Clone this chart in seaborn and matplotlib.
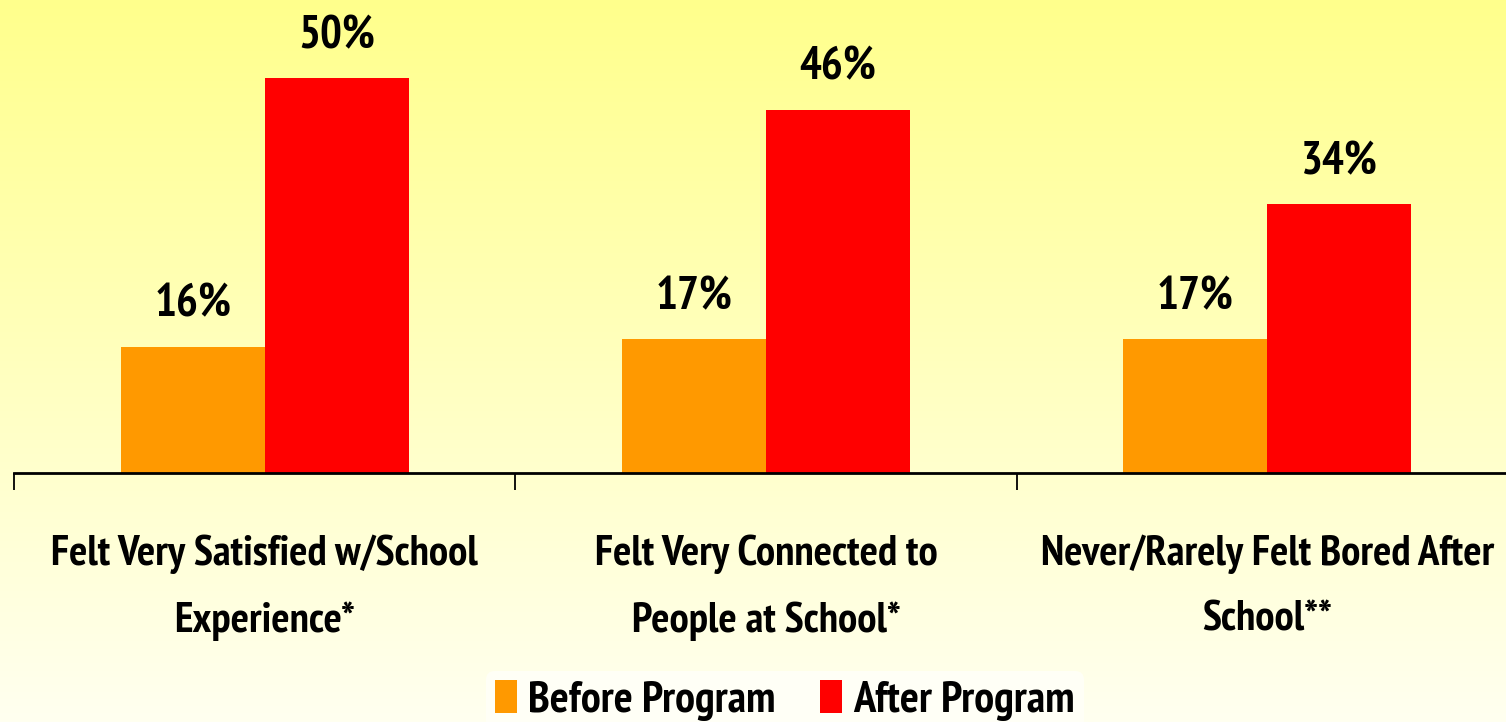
import numpy as np
import pandas as pd
import matplotlib
matplotlib.use("Agg")
import matplotlib.pyplot as plt
from matplotlib import font_manager
import seaborn as sns

categories = ["Felt Very Satisfied w/School\nExperience*",
              "Felt Very Connected to\nPeople at School*",
              "Never/Rarely Felt Bored After\nSchool**"]
before_vals = [16, 17, 17]
after_vals = [50, 46, 34]
series_names = ["Before Program", "After Program"]
colors = ["#FF9900", "#FF0000"]

sns.set_theme(style="white")


def _is_bold(w):
    if isinstance(w, str):
        return w.lower() in ("bold", "heavy", "black", "extra bold", "demibold", "semibold")
    return w >= 700


fam = "Liberation Sans"
for cand in ["Liberation Sans Narrow", "PT Sans Narrow", "Roboto Condensed",
             "Barlow Condensed", "Archivo Narrow"]:
    if any(f.name == cand and _is_bold(f.weight) for f in font_manager.fontManager.ttflist):
        fam = cand
        break
plt.rcParams["font.family"] = [fam, "DejaVu Sans"]
plt.rcParams["text.color"] = "black"
plt.rcParams["xtick.color"] = "black"

df = pd.DataFrame({
    "cat": categories * 2,
    "val": before_vals + after_vals,
    "period": [series_names[0]] * 3 + [series_names[1]] * 3,
})

W, H = 1506, 722
fig = plt.figure(figsize=(W / 100, H / 100), dpi=100)

# background gradient
bg = fig.add_axes([0, 0, 1, 1], zorder=0)
grad = np.linspace(0, 1, 256).reshape(-1, 1)
top = np.array([255, 255, 140]) / 255
bot = np.array([255, 255, 240]) / 255
img = top[None, None, :] * (1 - grad[:, :, None]) + bot[None, None, :] * grad[:, :, None]
bg.imshow(img, aspect="auto", extent=[0, 1, 0, 1])
bg.axis("off")

base_y = 473
ax = fig.add_axes([14 / W, (H - base_y) / H, 1504 / W, base_y / H], zorder=1)
ax.patch.set_alpha(0)
sns.barplot(data=df, x="cat", y="val", hue="period", palette=colors,
            width=0.574, dodge=True, gap=0, saturation=1, linewidth=0,
            ax=ax, legend=True)

ax.set_xlim(-0.5, 2.5)
ax.set_ylim(0, base_y / 7.9)
for s in ["top", "right", "left"]:
    ax.spines[s].set_visible(False)
ax.spines["bottom"].set_linewidth(2)
ax.spines["bottom"].set_color("black")
ax.set_yticks([])
ax.set_xlabel("")
ax.set_ylabel("")

ax.set_xticks([0, 1, 2])
ax.set_xticklabels(categories, fontsize=31, fontweight="bold", linespacing=1.9,
                   color="black")
ax.tick_params(axis="x", which="major", length=0, pad=44)
ax.set_xticks([-0.5, 0.5, 1.5, 2.5], minor=True)
ax.tick_params(axis="x", which="minor", length=12, width=1.3, color="black",
               direction="out", bottom=True)

for cont in ax.containers:
    ax.bar_label(cont, fmt="%d%%", fontsize=33, fontweight="bold", padding=15,
                 color="black")

leg = ax.legend(loc="lower center",
                bbox_to_anchor=((785 - 14) / 1504, -(H - base_y + 8) / base_y),
                ncol=2, frameon=True, prop={"weight": "bold", "size": 32},
                handlelength=0.5, handleheight=0.75, handletextpad=0.25, columnspacing=1.0,
                borderpad=0.2, borderaxespad=0.0)
leg.get_frame().set_facecolor("#FFFFF6")
leg.get_frame().set_edgecolor("none")
leg.get_frame().set_alpha(1)
for t in leg.get_texts():
    t.set_color("black")

fig.savefig("out.png", dpi=100)
